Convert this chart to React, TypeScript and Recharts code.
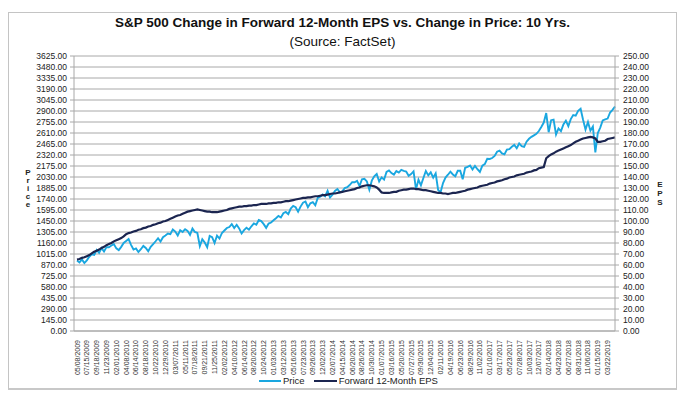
import React from "react";
import {
  CartesianGrid,
  Legend,
  Line,
  LineChart,
  XAxis,
  YAxis,
} from "recharts";

// x-axis labels, one every 4 data points
const dateLabels = [
  "05/08/2009", "07/15/2009", "09/18/2009", "11/23/2009", "02/01/2010", "04/08/2010",
  "06/14/2010", "08/18/2010", "10/22/2010", "12/29/2010", "03/07/2011", "05/11/2011",
  "07/18/2011", "09/21/2011", "11/25/2011", "02/02/2012", "04/10/2012", "06/14/2012",
  "08/20/2012", "10/24/2012", "01/03/2013", "03/12/2013", "05/16/2013", "07/23/2013",
  "09/26/2013", "12/02/2013", "02/07/2014", "04/15/2014", "06/20/2014", "08/26/2014",
  "10/30/2014", "01/07/2015", "03/16/2015", "05/20/2015", "07/27/2015", "09/30/2015",
  "12/04/2015", "02/11/2016", "04/19/2016", "06/23/2016", "08/29/2016", "11/02/2016",
  "01/10/2017", "03/17/2017", "05/23/2017", "07/28/2017", "10/03/2017", "12/07/2017",
  "02/14/2018", "04/23/2018", "06/27/2018", "08/31/2018", "11/06/2018", "01/15/2019",
  "03/22/2019",
];

// S&P 500 price (left axis)
const price = [
  929, 904, 944, 896, 932, 979, 1011, 1003, 1068, 1030, 1092, 1047,
  1106, 1105, 1127, 1146, 1089, 1066, 1109, 1160, 1186, 1212, 1136, 1074,
  1089, 1041, 1078, 1121, 1095, 1051, 1109, 1146, 1183, 1223, 1180, 1236,
  1259, 1284, 1276, 1339, 1310, 1258, 1328, 1306, 1342, 1320, 1268, 1350,
  1305, 1292, 1120, 1210, 1166, 1105, 1254, 1236, 1159, 1258, 1219, 1292,
  1325, 1358, 1370, 1410, 1358, 1400, 1353, 1285, 1329, 1362, 1336, 1380,
  1418, 1402, 1462, 1448, 1409, 1360, 1416, 1430, 1459, 1486, 1517, 1496,
  1552, 1569, 1541, 1614, 1650, 1632, 1573, 1640, 1692, 1707, 1632, 1683,
  1698, 1656, 1754, 1770, 1800, 1775, 1848, 1760, 1797, 1847, 1872, 1828,
  1842, 1883, 1896, 1924, 1962, 1960, 1978, 1910, 2000, 2007, 1972, 1862,
  1982, 2039, 2070, 1972, 2025, 1995, 2097, 2117, 2081, 2061, 2108, 2089,
  2125, 2112, 2101, 2046, 2068, 2104, 1867, 1995, 1920, 2017, 2109, 2051,
  2091, 2022, 2078, 1859, 1829, 1951, 2022, 2060, 2100, 2063, 2040, 2112,
  2113, 2000, 2152, 2163, 2180, 2128, 2177, 2132, 2097, 2180, 2199, 2270,
  2268, 2280, 2307, 2364, 2378, 2341, 2328, 2391, 2398, 2429, 2453, 2409,
  2472, 2438, 2428, 2496, 2534, 2559, 2579, 2599, 2636, 2690, 2748, 2873,
  2620, 2779, 2786, 2590, 2670, 2635, 2722, 2772, 2699, 2793, 2846, 2839,
  2902, 2930, 2785, 2656, 2755, 2640, 2695, 2355, 2610, 2681, 2775, 2790,
  2800, 2880, 2915, 2960,
];

// forward 12-month EPS (right axis)
const eps = [
  65, 65.5, 66.5, 67, 68, 69, 70.5, 72, 73, 74, 75.5, 76.5,
  78, 79, 80, 81.5, 82.5, 83.5, 84.5, 86, 88, 89, 89.5, 90.5,
  91, 92, 92.5, 93.5, 94, 95, 95.5, 96.5, 97, 98, 98.5, 99.5,
  100, 101, 102, 103, 104, 105, 105.5, 106.5, 107.5, 108.5, 109, 109.5,
  110, 110.5, 110, 109.5, 109, 108.5, 108.5, 108, 108, 108, 108.5, 109,
  109.5, 110, 111, 111.5, 112, 112.5, 113, 113, 113.5, 113.5, 114, 114,
  114.5, 114.5, 115, 115.5, 115.5, 115.5, 116, 116, 116.5, 116.5, 117, 117,
  117.5, 118, 118, 118.5, 119, 119.5, 120, 120.5, 121, 121, 121.5, 121.5,
  122, 122.5, 122.5, 123, 123.5, 123.5, 124, 124.5, 125, 125, 125.5, 126,
  126.5, 127, 127.5, 128, 128.5, 129, 130, 130.5, 131.5, 132, 132.5, 132.5,
  132, 131.5, 130.5, 128.5, 126, 125.5, 125.5, 125.5, 126, 126.5, 126.5, 127.5,
  128, 128.5, 128.5, 129, 129.5, 129.5, 129, 129, 128.5, 128, 128, 127.5,
  127, 126.5, 126, 125.5, 125.5, 125, 125, 124.5, 125, 125.5, 125.5, 126,
  126.5, 127, 127.5, 128.5, 129, 129.5, 130, 130.5, 131.5, 132, 132.5, 133,
  134, 134.5, 135, 136, 136.5, 137, 138, 138.5, 139.5, 140, 140.5, 141.5,
  142, 142.5, 143, 144, 144.5, 145, 146, 146.5, 148, 148.5, 149, 157,
  159, 160.5, 161.5, 163, 164, 165, 166, 167, 168, 169, 170.5, 172,
  173, 174, 175, 175.5, 176, 176.5, 176, 175, 172, 172, 172.5, 173,
  174.5, 175, 175.5, 176,
];

const priceTicks = [
  0, 145, 290, 435, 580, 725, 870, 1015, 1160, 1305, 1450, 1595, 1740,
  1885, 2030, 2175, 2320, 2465, 2610, 2755, 2900, 3045, 3190, 3335, 3480, 3625,
];
const epsTicks = [
  0, 10, 20, 30, 40, 50, 60, 70, 80, 90, 100, 110, 120, 130,
  140, 150, 160, 170, 180, 190, 200, 210, 220, 230, 240, 250,
];

const FONT = '"Liberation Sans", Arial, sans-serif';
const PRICE_COLOR = "#1aa7e0";
const EPS_COLOR = "#1b2550";
const GRID = "#a8a8a8";

const chartData = price.map((p, i) => ({
  name: i % 4 === 0 ? dateLabels[i / 4] : `${dateLabels[Math.floor(i / 4)]}+${i % 4}`,
  price: p,
  eps: eps[i],
}));

const XTick = ({ x, y, payload }: any) => (
  <g transform={`translate(${x},${y})`}>
    <text
      transform="rotate(-90)"
      x={-1}
      y={0}
      dy={2.5}
      textAnchor="end"
      fontSize={7}
      fontFamily={FONT}
      fill="#333"
    >
      {payload.value}
    </text>
  </g>
);

const LegendContent = () => (
  <div style={{ display: "flex", alignItems: "center", fontFamily: FONT, fontSize: 9.5, color: "#222" }}>
    <span style={{ display: "inline-block", width: 22, height: 2, background: PRICE_COLOR, marginRight: 2 }} />
    <span>Price</span>
    <span style={{ display: "inline-block", width: 23, height: 2, background: EPS_COLOR, marginLeft: 9, marginRight: 2 }} />
    <span>Forward 12-Month EPS</span>
  </div>
);

const stacked = (s: string) =>
  s.split("").map((c, i) => <div key={i}>{c}</div>);

export default function App() {
  return (
    <div style={{ position: "relative", width: 669, height: 383, fontFamily: FONT }}>
      <div
        style={{
          position: "absolute",
          left: 0,
          top: 4,
          width: 669,
          height: 378,
          boxSizing: "border-box",
          border: "1px solid #c4c4c4",
          borderBottom: "2px solid #c8c8c8",
        }}
      />
      <div style={{ position: "absolute", left: 0, width: 669, top: 7, textAlign: "center", fontWeight: "bold", fontSize: 13.5, color: "#111" }}>
        S&amp;P 500 Change in Forward 12-Month EPS vs. Change in Price: 10 Yrs.
      </div>
      <div style={{ position: "absolute", left: 0, width: 669, top: 26, textAlign: "center", fontSize: 13.5, color: "#111" }}>
        (Source: FactSet)
      </div>
      <div style={{ position: "absolute", left: 15, top: 161, width: 10, textAlign: "center", fontWeight: "bold", fontSize: 8, lineHeight: "8px", color: "#222" }}>
        {stacked("Price")}
      </div>
      <div style={{ position: "absolute", left: 647, top: 172, width: 10, textAlign: "center", fontWeight: "bold", fontSize: 8, lineHeight: "9px", color: "#222" }}>
        {stacked("EPS")}
      </div>
      <div style={{ position: "absolute", left: 0, top: 0 }}>
        <LineChart width={669} height={383} data={chartData} margin={{ top: 48, right: 0, left: 0, bottom: 0 }}>
          <CartesianGrid yAxisId="price" vertical={false} stroke={GRID} strokeWidth={1} />
          <XAxis
            dataKey="name"
            interval={3}
            height={60}
            tick={<XTick />}
            tickLine={false}
            axisLine={{ stroke: GRID }}
            padding={{ left: 3, right: 0 }}
          />
          <YAxis
            yAxisId="price"
            width={66}
            domain={[0, 3625]}
            ticks={priceTicks}
            interval={0}
            tickFormatter={(v: number) => v.toFixed(2)}
            tick={{ fontSize: 8.5, fill: "#222", fontFamily: FONT }}
            tickSize={4}
            tickMargin={3}
            tickLine={{ stroke: GRID }}
            axisLine={{ stroke: GRID }}
          />
          <YAxis
            yAxisId="eps"
            orientation="right"
            width={62}
            domain={[0, 250]}
            ticks={epsTicks}
            interval={0}
            tickFormatter={(v: number) => v.toFixed(2)}
            tick={{ fontSize: 8.5, fill: "#222", fontFamily: FONT }}
            tickSize={4}
            tickMargin={4}
            tickLine={{ stroke: GRID }}
            axisLine={{ stroke: GRID }}
          />
          <Legend
            verticalAlign="middle"
            align="center"
            content={<LegendContent />}
            wrapperStyle={{ left: 251, top: 367, width: 200, height: 12 }}
          />
          <Line
            yAxisId="price"
            type="linear"
            dataKey="price"
            name="Price"
            stroke={PRICE_COLOR}
            strokeWidth={1.9}
            dot={false}
            isAnimationActive={false}
          />
          <Line
            yAxisId="eps"
            type="linear"
            dataKey="eps"
            name="Forward 12-Month EPS"
            stroke={EPS_COLOR}
            strokeWidth={2.2}
            dot={false}
            isAnimationActive={false}
          />
        </LineChart>
      </div>
    </div>
  );
}
